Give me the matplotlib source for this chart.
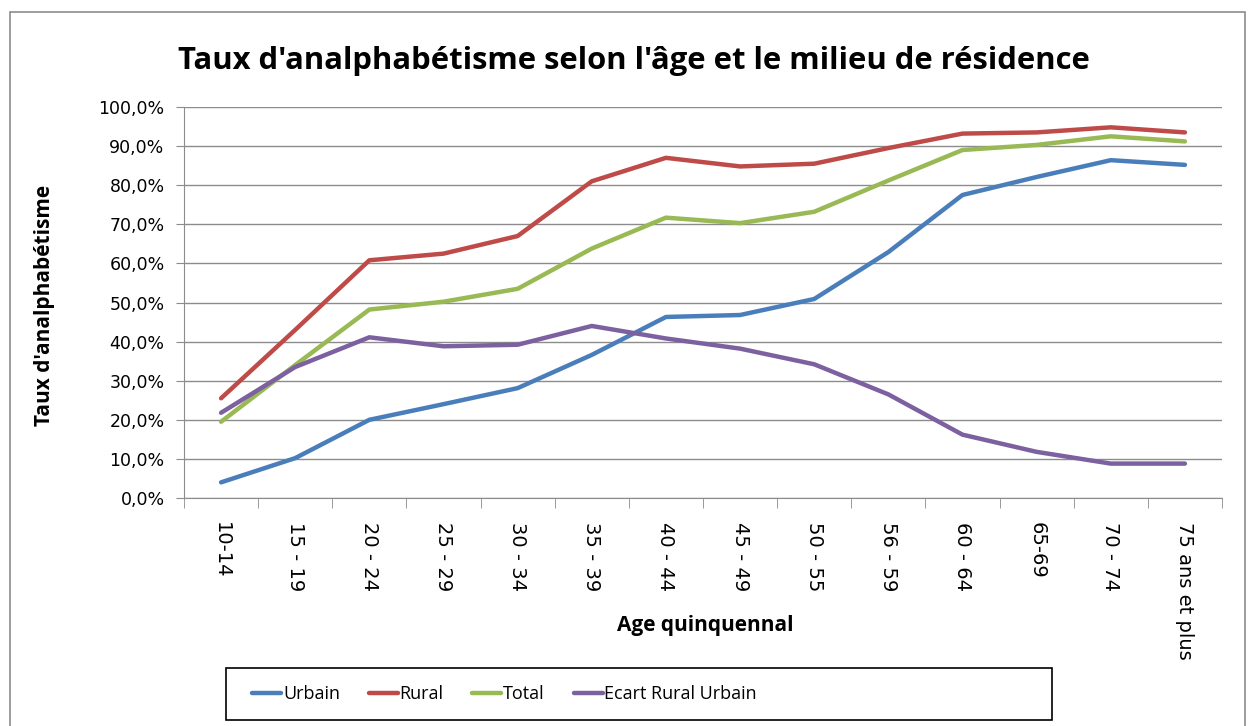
import matplotlib.pyplot as plt
from matplotlib.patches import Rectangle
from matplotlib.ticker import FuncFormatter, FixedLocator

ages = ["10-14", "15 - 19", "20 - 24", "25 - 29", "30 - 34", "35 - 39", "40 - 44",
        "45 - 49", "50 - 55", "56 - 59", "60 - 64", "65-69", "70 - 74", "75 ans et plus"]

urbain = [4.0, 10.2, 20.0, 24.0, 28.1, 36.6, 46.3, 46.8, 50.9, 62.9, 77.5, 82.1, 86.4, 85.2]
rural = [25.5, 43.0, 60.8, 62.5, 67.0, 81.0, 87.0, 84.8, 85.5, 89.5, 93.2, 93.5, 94.8, 93.5]
total = [19.5, 34.0, 48.2, 50.2, 53.5, 63.8, 71.7, 70.3, 73.2, 81.2, 89.0, 90.3, 92.5, 91.2]
ecart = [21.8, 33.5, 41.1, 38.8, 39.2, 44.0, 40.8, 38.2, 34.2, 26.5, 16.2, 11.8, 8.8, 8.8]

series = [("Urbain", urbain, "#4A7EBB"),
          ("Rural", rural, "#BE4B48"),
          ("Total", total, "#98B954"),
          ("Ecart Rural Urbain", ecart, "#7D60A0")]

fig = plt.figure(figsize=(12.52, 7.26), dpi=100)
W, H = 1252, 726

# outer chart frame
fig.patches.append(Rectangle((10 / W, -0.05), 1235 / W, 1 - 12 / H + 0.05,
                             transform=fig.transFigure, fill=False,
                             edgecolor="#8c8c8c", linewidth=1.2))
# legend box (wider than its contents, like the original)
fig.patches.append(Rectangle((226 / W, 1 - 720 / H), (1052 - 226) / W, 52 / H,
                             transform=fig.transFigure, fill=False,
                             edgecolor="black", linewidth=1.2))

ax = fig.add_axes([184 / W, 1 - 498 / H, (1222 - 184) / W, (498 - 107) / H])

x = list(range(len(ages)))
for name, vals, col in series:
    ax.plot(x, vals, color=col, linewidth=3.2, label=name, solid_capstyle="round")

ax.set_xlim(-0.5, len(ages) - 0.5)
ax.set_ylim(0, 100)
ax.set_yticks(range(0, 101, 10))
ax.yaxis.set_major_formatter(FuncFormatter(lambda v, p: f"{v:.1f}%".replace(".", ",")))
ax.grid(axis="y", color="#8c8c8c", linewidth=1)
ax.set_axisbelow(True)

# category labels centred, ticks on category boundaries
ax.set_xticks(x)
ax.set_xticklabels(ages, rotation=-90, fontsize=14, family="DejaVu Sans")
ax.tick_params(axis="x", which="major", length=0, pad=17)
ax.xaxis.set_minor_locator(FixedLocator([i - 0.5 for i in range(len(ages) + 1)]))
ax.tick_params(axis="x", which="minor", length=7, color="#8c8c8c")
ax.tick_params(axis="y", length=6, color="#8c8c8c", labelsize=12.5, pad=8)

for s in ["top", "right"]:
    ax.spines[s].set_visible(False)
for s in ["left", "bottom"]:
    ax.spines[s].set_color("#8c8c8c")

fig.text(178 / W, 1 - 61 / H, "Taux d'analphabétisme selon l'âge et le milieu de résidence",
         fontsize=22.3, fontweight="bold", family="Open Sans", va="center", ha="left")
fig.text(45 / W, 1 - 305 / H, "Taux d'analphabétisme", rotation=90, fontsize=15,
         fontweight="bold", family="Open Sans", va="center", ha="center")
fig.text(705 / W, 1 - 625 / H, "Age quinquennal", fontsize=15, fontweight="bold",
         family="Open Sans", va="center", ha="center")

leg = fig.legend(loc="center left", bbox_to_anchor=(236 / W, 1 - 694 / H), ncol=4,
                 frameon=False, handlelength=1.6, columnspacing=1.6,
                 handletextpad=0.1, prop={"family": "Open Sans", "size": 13})

fig.savefig("out.png", dpi=100)
